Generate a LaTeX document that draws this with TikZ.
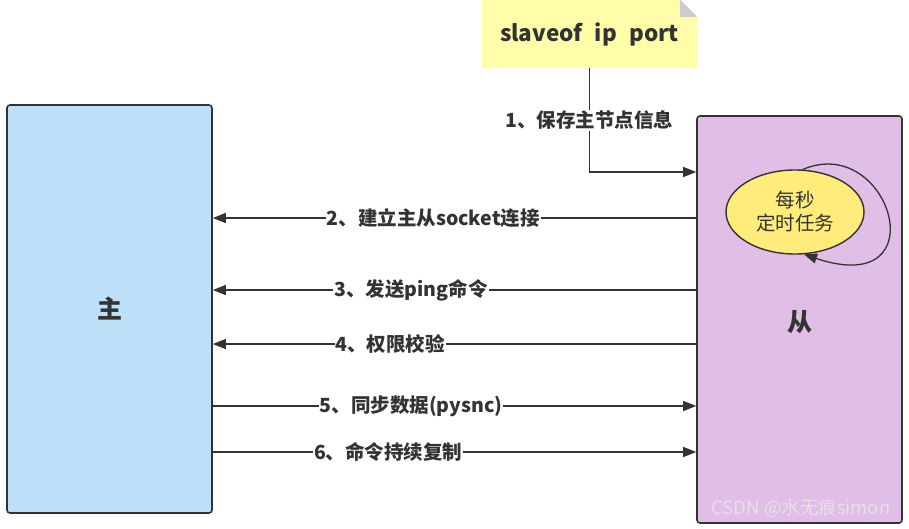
\documentclass[tikz,border=0pt]{standalone}
\usepackage{fontspec}
\setmainfont{Noto Sans CJK SC}
\usetikzlibrary{arrows.meta,shapes.geometric}
\definecolor{ink}{HTML}{333333}
\definecolor{masterfill}{HTML}{BDDFF8}
\definecolor{slavefill}{HTML}{E1BEE7}
\definecolor{notefill}{HTML}{FFFDAA}
\definecolor{timerfill}{HTML}{FFEC7A}

\begin{document}
\begin{tikzpicture}
[x=1pt,y=-1pt,
every node/.style={text=ink},
role/.style={draw=ink,line width=1.6pt,rounded corners=3pt,minimum width=205pt,font=\fontsize{25}{28}\selectfont\bfseries},
notebox/.style={fill=notefill,minimum width=215pt,minimum height=68pt,font=\fontsize{22.5}{26}\selectfont\bfseries},
timerbox/.style={ellipse,draw=ink,line width=1.4pt,fill=timerfill,minimum width=138pt,minimum height=84pt,inner sep=0pt,align=center,font=\fontsize{19.5}{23}\selectfont},
msg/.style={draw=ink,line width=1.3pt,-{Triangle[length=13pt,width=10pt]}},
lbl/.style={fill=white,inner sep=1pt,font=\fontsize{19.5}{22}\selectfont\bfseries}]

\useasboundingbox (0,0) rectangle (909,528);

% the two roles
\node[role,fill=masterfill,minimum height=408pt] (master) at (109.5,309) {主};
\node[role,fill=slavefill,minimum height=407pt] (slave) at (799.5,319.5) {};
\node[font=\fontsize{25}{28}\selectfont\bfseries] (slavename) at (800,322) {从};

% command note with folded corner
\node[notebox] (cfg) at (589.5,34) {slaveof\hspace{0.55em}ip\hspace{0.55em}port};
\fill[white] (cfg.north east) -- ++(-17,0) -- ++(17,17) -- cycle;
\fill[gray!40] (cfg.north east) ++(-17,0) -- ++(0,17) -- ++(17,0) -- cycle;

% timer inside the slave
\node[timerbox] (timer) at (795,212) {每秒\\定时任务};
\draw[msg] (timer.80) .. controls (890,132) and (940,300) .. (timer.-78);

% replication steps
\draw[msg] (cfg.south) |- (slave.west |- 0,172) node[lbl,pos=0.25] {1、保存主节点信息};
\draw[msg] (slave.west |- 0,218) -- (master.east |- 0,218) node[lbl,pos=0.544] {2、建立主从socket连接};
\draw[msg] (slave.west |- 0,290) -- (master.east |- 0,290) node[lbl,pos=0.59] {3、发送ping命令};
\draw[msg] (slave.west |- 0,344) -- (master.east |- 0,344) node[lbl,pos=0.633] {4、权限校验};
\draw[msg] (master.east |- 0,406) -- (slave.west |- 0,406) node[lbl,pos=0.41] {5、同步数据(pysnc)};
\draw[msg] (master.east |- 0,452) -- (slave.west |- 0,452) node[lbl,pos=0.363] {6、命令持续复制};

% watermark
\node[text=white!78!gray,font=\fontsize{18.5}{21}\selectfont,anchor=east] (mark) at (894,508) {CSDN @水无痕simon};
\end{tikzpicture}
\end{document}
